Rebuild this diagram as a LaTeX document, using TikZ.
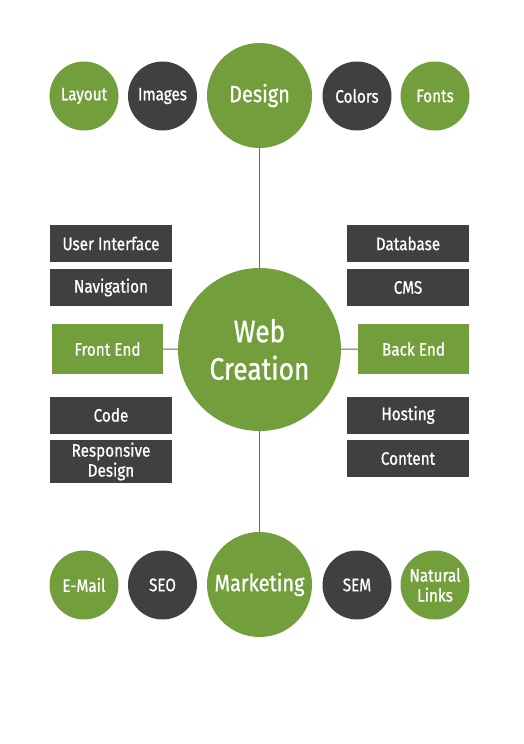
\documentclass[tikz,border=0pt]{standalone}
\usepackage{fontspec}
\setmainfont{Fira Sans}[FakeStretch=0.85, FakeBold=0.8]
\usepackage{tikz}
\definecolor{verde}{HTML}{729E3C}
\definecolor{grigio}{HTML}{404040}
\definecolor{linea}{HTML}{666666}
\tikzset{
    cerchio/.style={circle, inner sep=0pt, text=white, align=center},
    piccolo/.style={cerchio, minimum size=69pt, font=\fontsize{18}{20}\selectfont},
    medio/.style={cerchio, fill=verde, minimum size=105pt, font=\fontsize{23.5}{28}\selectfont},
    scatola/.style={rectangle, fill=grigio, inner sep=0pt, text=white, align=center,
        minimum width=122pt, minimum height=37pt, font=\fontsize{18}{20}\selectfont},
    collega/.style={draw=linea, line width=1pt}
}

\begin{document}
\begin{tikzpicture}[x=1pt, y=-1pt]
        \useasboundingbox (0,0) rectangle (524,744);
        % Cerchio centrale
        \node[cerchio, fill=verde, minimum size=163pt, font=\fontsize{31}{37.5}\selectfont]
            (wc) at (259.5,349.5) {Web\\Creation};
        % Riga in alto
        \node[medio] (design) at (259.5,95.5) {Design};
        \node[piccolo, fill=verde] (layout) at (84,96) {Layout};
        \node[piccolo, fill=grigio] (images) at (162.5,96) {Images};
        \node[piccolo, fill=grigio] (colors) at (357,96) {Colors};
        \node[piccolo, fill=verde] (fonts) at (435,96) {Fonts};
        % Riga in basso
        \node[medio] (marketing) at (259.5,584.5) {Marketing};
        \node[piccolo, fill=verde] (email) at (84,585) {E-Mail};
        \node[piccolo, fill=grigio] (seo) at (162.5,585) {SEO};
        \node[piccolo, fill=grigio] (sem) at (357,585) {SEM};
        \node[piccolo, fill=verde] (links) at (435,585) {Natural\\Links};
        % Lato sinistro
        \node[scatola] (ui) at (111,243.5) {User Interface};
        \node[scatola] (nav) at (111,287.5) {Navigation};
        \node[scatola, fill=verde, minimum width=111pt, minimum height=50pt] (front) at (107.5,349) {Front End};
        \node[scatola] (code) at (111,415) {Code};
        \node[scatola, minimum height=43pt] (resp) at (111,461.5) {Responsive\\Design};
        % Lato destro
        \node[scatola] (db) at (408,243.5) {Database};
        \node[scatola] (cms) at (408,287.5) {CMS};
        \node[scatola, fill=verde, minimum width=111pt, minimum height=50pt] (back) at (413.5,349) {Back End};
        \node[scatola] (host) at (408,415) {Hosting};
        \node[scatola] (content) at (408,458.5) {Content};
        % Collegamenti
        \draw[collega] (design) -- (wc);
        \draw[collega] (wc) -- (marketing);
        \draw[collega] (front) -- (wc);
        \draw[collega] (wc) -- (back);
    \end{tikzpicture}
\end{document}
